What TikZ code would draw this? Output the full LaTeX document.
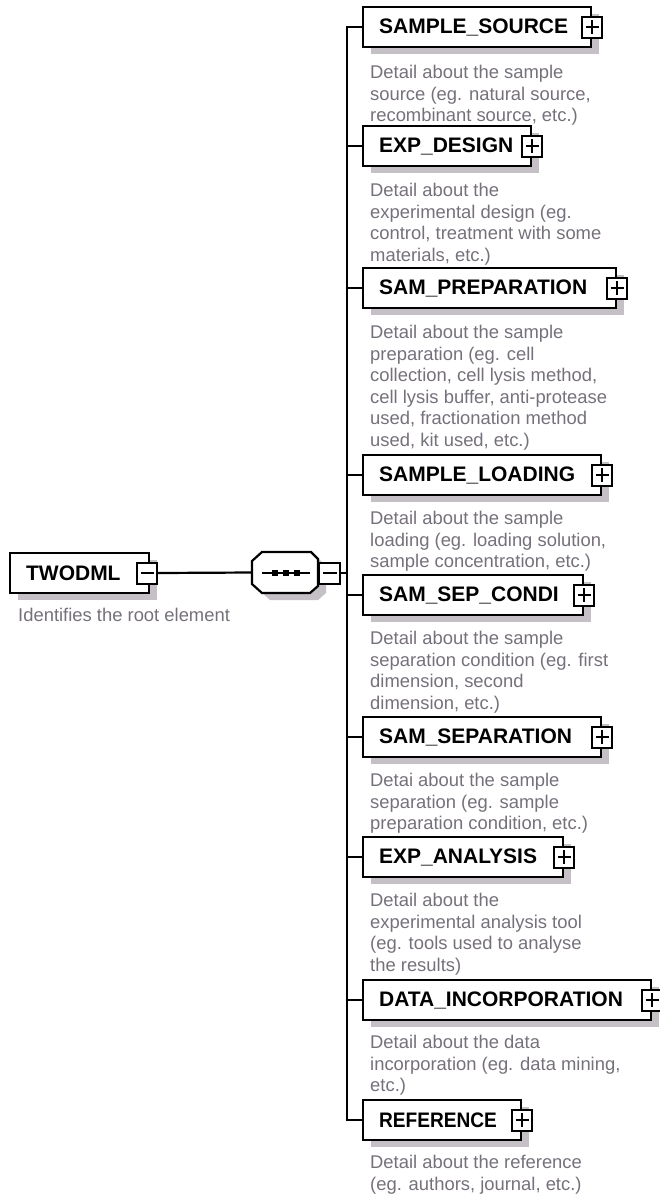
\documentclass[tikz,border=0pt]{standalone}
\usepackage{fontspec}
\setmainfont{Liberation Sans}
\usetikzlibrary{shadows}
\definecolor{shadowc}{RGB}{196,192,198}
\definecolor{descc}{RGB}{118,112,122}
\newcommand\lblfont{\fontsize{21}{25}\selectfont\bfseries}
\newcommand\dscfont{\fontsize{18.4}{21.6}\selectfont}
\newcommand\dlines[1]{\vtop{\baselineskip=21.6pt\lineskiplimit=-100pt\lineskip=0pt #1}}
\newcommand\seqoct[2]{({262+#1},{552+#2}) -- ({311+#1},{552+#2}) -- ({318+#1},{559+#2}) -- ({318+#1},{586+#2}) -- ({310+#1},{593+#2}) -- ({262+#1},{593+#2}) -- ({252+#1},{584+#2}) -- ({252+#1},{561+#2}) -- cycle}
\begin{document}
\begin{tikzpicture}[x=1pt,y=-1pt,
  elem/.style={draw, line width=2.2pt, fill=white, inner xsep=16pt, inner ysep=0pt, minimum height=40pt,
    anchor=west, font=\lblfont, align=left,
    drop shadow={shadow xshift=8pt, shadow yshift=-7pt, fill=shadowc, opacity=1}},
  pmbox/.style={draw, fill=white, line width=2pt, minimum width=20pt, minimum height=21pt, inner sep=0pt},
  plusbox/.style={pmbox, path picture={
      \draw[line width=2pt] ([xshift=3.5pt]path picture bounding box.west) -- ([xshift=-3.5pt]path picture bounding box.east);
      \draw[line width=2pt] ([yshift=-3.5pt]path picture bounding box.north) -- ([yshift=3.5pt]path picture bounding box.south);}},
  minusbox/.style={pmbox, path picture={
      \draw[line width=2pt] ([xshift=3.5pt]path picture bounding box.west) -- ([xshift=-3.5pt]path picture bounding box.east);}},
  conn/.style={line width=2.2pt, line join=miter},
  desc/.style={anchor=base west, inner sep=0pt, text=descc, font=\dscfont},
]
\useasboundingbox (0,0) rectangle (660,1197);

% root element
\node[elem, text width=107pt] (root) at (9,573) {TWODML};
\node[minusbox] (rootm) at (147,573) {};
\node[desc] (rootd) at (18,621) {\dlines{\hbox{Identifies the root element}}};

% sequence compositor
\fill[shadowc] \seqoct{8}{7};
\draw[conn, fill=white] \seqoct{0}{0};
\node[minimum width=66pt, minimum height=41pt, inner sep=0pt] (seq) at (285,572.5) {};
\draw[line width=2pt] (262,573) -- (310,573);
\foreach \dx in {275,286,297} {\fill (\dx-3,570) rectangle (\dx+3,576);}
\node[minusbox, minimum width=21pt] (seqm) at (329.5,573) {};
\coordinate (bus) at (347,573);

\draw[conn] (rootm.east) -- (seq.west);
\draw[conn] (seqm.east) -- (bus);

% children
\node[elem, text width=196pt] (e1) at (362,27) {SAMPLE\_SOURCE};
\node[elem, text width=136pt] (e2) at (362,146) {EXP\_DESIGN};
\node[elem, text width=221pt] (e3) at (362,288) {SAM\_PREPARATION};
\node[elem, text width=206pt] (e4) at (362,475) {SAMPLE\_LOADING};
\node[elem, text width=188pt] (e5) at (362,595) {SAM\_SEP\_CONDI};
\node[elem, text width=206pt] (e6) at (362,737) {SAM\_SEPARATION};
\node[elem, text width=168pt] (e7) at (362,857) {EXP\_ANALYSIS};
\node[elem, text width=256pt] (e8) at (362,1000) {DATA\_INCORPORATION};
\node[elem, text width=126pt] (e9) at (362,1120) {\scalebox{0.91}[1]{REFERENCE}};

\foreach \n in {1,...,9} {\node[plusbox] (p\n) at (e\n.east) {};}

% connectors
\draw[conn] (e1.west) -- (e1.west -| bus) -- (e9.west -| bus) -- (e9.west);
\foreach \n in {2,...,8} {\draw[conn] (e\n.west -| bus) -- (e\n.west);}

% descriptions
\node[desc] (d1) at (370,78.5) {\dlines{\hbox{Detail about the sample}\hbox{source (eg. natural source,}\hbox{recombinant source, etc.)}}};
\node[desc] (d2) at (370,196.5) {\dlines{\hbox{Detail about the}\hbox{experimental design (eg.}\hbox{control, treatment with some}\hbox{materials, etc.)}}};
\node[desc] (d3) at (370,338.5) {\dlines{\hbox{Detail about the sample}\hbox{preparation (eg. cell}\hbox{collection, cell lysis method,}\hbox{cell lysis buffer, anti-protease}\hbox{used, fractionation method}\hbox{used, kit used, etc.)}}};
\node[desc] (d4) at (370,524.5) {\dlines{\hbox{Detail about the sample}\hbox{loading (eg. loading solution,}\hbox{sample concentration, etc.)}}};
\node[desc] (d5) at (370,644.5) {\dlines{\hbox{Detail about the sample}\hbox{separation condition (eg. first}\hbox{dimension, second}\hbox{dimension, etc.)}}};
\node[desc] (d6) at (370,786.5) {\dlines{\hbox{Detai about the sample}\hbox{separation (eg. sample}\hbox{preparation condition, etc.)}}};
\node[desc] (d7) at (370,906.5) {\dlines{\hbox{Detail about the}\hbox{experimental analysis tool}\hbox{(eg. tools used to analyse}\hbox{the results)}}};
\node[desc] (d8) at (370,1048.5) {\dlines{\hbox{Detail about the data}\hbox{incorporation (eg. data mining,}\hbox{etc.)}}};
\node[desc] (d9) at (370,1168.5) {\dlines{\hbox{Detail about the reference}\hbox{(eg. authors, journal, etc.)}}};
\end{tikzpicture}
\end{document}
